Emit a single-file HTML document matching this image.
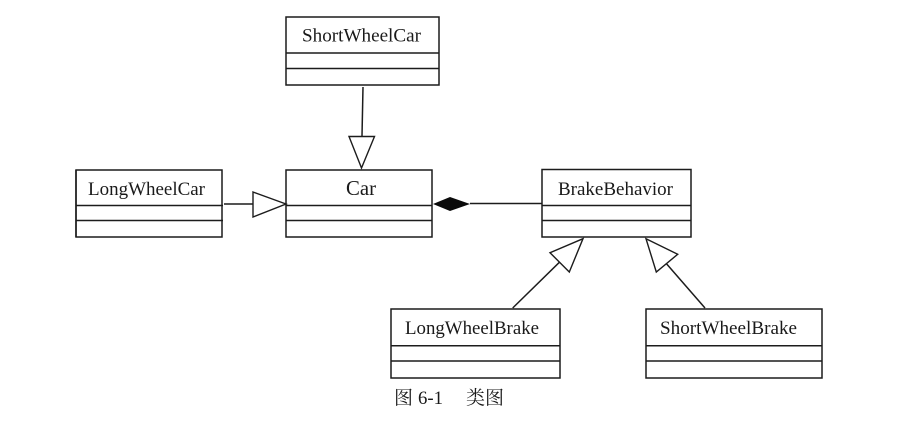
<!DOCTYPE html>
<html>
<head>
<meta charset="utf-8">
<style>
html,body{margin:0;padding:0;background:#fff;width:914px;height:423px;overflow:hidden}
svg{display:block}
.b{fill:none;stroke:#1c1c1c;stroke-width:1.5}
.l{stroke:#1c1c1c;stroke-width:1.5;fill:none}
.t{fill:#fff;stroke:#1c1c1c;stroke-width:1.4}
text{font-family:"Liberation Serif","Noto Serif CJK SC",serif;fill:#1a1a1a;font-size:19px}
</style>
</head>
<body>
<svg width="914" height="423" viewBox="0 0 914 423" xmlns="http://www.w3.org/2000/svg">
<g style="filter:blur(0.3px)">
<!-- ShortWheelCar -->
<rect class="b" x="286" y="17" width="153" height="68"/>
<path class="l" d="M286 53H439M286 68.500H439"/>
<text x="302" y="41.500" textLength="119" lengthAdjust="spacingAndGlyphs">ShortWheelCar</text>
<!-- LongWheelCar -->
<rect class="b" x="76" y="170" width="146" height="67"/>
<path class="l" d="M76 205.500H223M76 220.500H223"/>
<path class="l" d="M76 170V237"/>
<text x="88" y="195" textLength="117" lengthAdjust="spacingAndGlyphs">LongWheelCar</text>
<!-- Car -->
<rect class="b" x="286" y="170" width="146" height="67"/>
<path class="l" d="M286 205.500H432M286 220.500H432"/>
<text x="346" y="195" textLength="30" lengthAdjust="spacingAndGlyphs" style="font-size:21px">Car</text>
<!-- BrakeBehavior -->
<rect class="b" x="542" y="169.500" width="149" height="67.500"/>
<path class="l" d="M542 205.500H691M542 220.500H691"/>
<text x="558" y="195" textLength="115" lengthAdjust="spacingAndGlyphs">BrakeBehavior</text>
<!-- LongWheelBrake -->
<rect class="b" x="391" y="309" width="169" height="69"/>
<path class="l" d="M391 345.700H560M391 361H560"/>
<text x="405" y="334" textLength="134" lengthAdjust="spacingAndGlyphs">LongWheelBrake</text>
<!-- ShortWheelBrake -->
<rect class="b" x="646" y="309" width="176" height="69"/>
<path class="l" d="M646 345.700H822M646 361H822"/>
<text x="660" y="334" textLength="137" lengthAdjust="spacingAndGlyphs">ShortWheelBrake</text>
<!-- ShortWheelCar to Car -->
<path class="l" d="M363 87L362 136"/>
<path class="t" d="M349 136.500H374.500L361.500 168Z"/>
<!-- LongWheelCar to Car -->
<path class="l" d="M224 204H253"/>
<path class="t" d="M253 192L286 204L253 217Z"/>
<!-- Composition -->
<path d="M433 204L450 197L470 204L450 211Z" fill="#0a0a0a"/>
<path class="l" d="M470 203.500H542"/>
<!-- LongWheelBrake to BrakeBehavior -->
<path class="l" d="M512.700 308L560 261.700"/>
<path class="t" d="M583 238.700L550 252.700L569.300 272Z"/>
<!-- ShortWheelBrake to BrakeBehavior -->
<path class="l" d="M705 308L666.700 264"/>
<path class="t" d="M646 238.700L677.700 254.300L656.300 272Z"/>
<!-- Caption -->
<text x="394" y="404">图</text>
<text x="418" y="404" textLength="25" lengthAdjust="spacingAndGlyphs">6-1</text>
<text x="466" y="404">类图</text>
</g>
</svg>
</body>
</html>
